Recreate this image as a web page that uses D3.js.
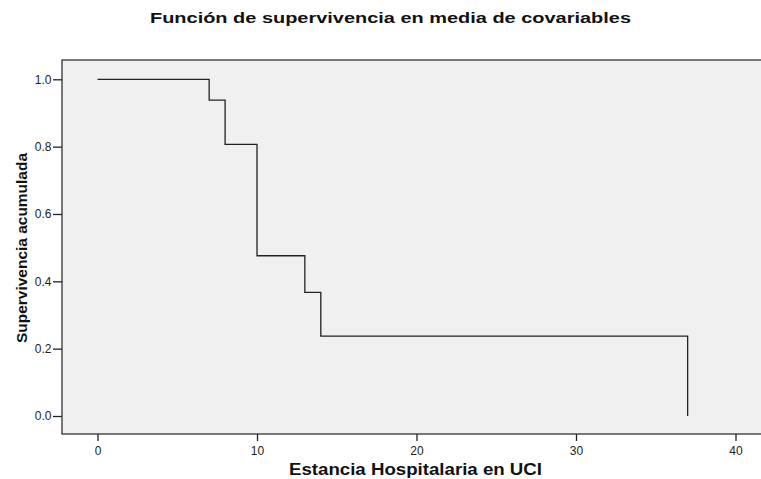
<!DOCTYPE html>
<html><head><meta charset="utf-8">
<script src="https://cdn.jsdelivr.net/npm/d3@7"></script>
<style>body{margin:0;background:#fff}svg{display:block}text{font-family:Arial,"Liberation Sans",sans-serif}</style>
</head><body>
<script>
const times = [0, 7, 8, 10, 13, 14, 37];
const survival = [1.0, 0.938, 0.807, 0.476, 0.367, 0.237, 0.0];
const xTicks = [0, 10, 20, 30, 40];
const yTicks = [0.0, 0.2, 0.4, 0.6, 0.8, 1.0];
const title = "Función de supervivencia en media de covariables";
const xLabel = "Estancia Hospitalaria en UCI";
const yLabel = "Supervivencia acumulada";

const W = 761, H = 479;
const svg = d3.select("body").append("svg").attr("width", W).attr("height", H);
const plot = {left: 62, top: 60, right: 765, bottom: 434};

const x = d3.scaleLinear().domain([0, 40]).range([97.5, 735.5]);
const y = d3.scaleLinear().domain([0, 1]).range([416, 79.3]);

svg.append("rect").attr("x", plot.left).attr("y", plot.top)
  .attr("width", plot.right - plot.left).attr("height", plot.bottom - plot.top)
  .attr("fill", "#f0f0f0").attr("stroke", "#333").attr("stroke-width", 1.3);

// step path
const pts = [];
for (let i = 0; i < times.length; i++) {
  if (i > 0) pts.push([times[i], survival[i - 1]]);
  pts.push([times[i], survival[i]]);
}
const line = d3.line().x(d => x(d[0])).y(d => y(d[1]));
svg.append("path").attr("d", line(pts)).attr("fill", "none")
  .attr("stroke", "#222").attr("stroke-width", 1.3);

const xAxis = svg.append("g").attr("transform", `translate(0,${plot.bottom})`)
  .call(d3.axisBottom(x).tickValues(xTicks).tickFormat(d3.format("d")).tickSize(7).tickSizeOuter(0));
xAxis.select(".domain").remove();
xAxis.selectAll("line").attr("stroke", "#222").attr("stroke-width", 1.3);
xAxis.selectAll("text").attr("font-size", 12).attr("fill", "#222").attr("dy", "0.9em");

const yAxis = svg.append("g").attr("transform", `translate(${plot.left},0)`)
  .call(d3.axisLeft(y).tickValues(yTicks).tickFormat(d3.format(".1f")).tickSize(9).tickSizeOuter(0));
yAxis.select(".domain").remove();
yAxis.selectAll("line").attr("stroke", "#222").attr("stroke-width", 1.3);
yAxis.selectAll("text").attr("font-size", 12).attr("fill", "#222").attr("x", -10.5);

svg.append("text").attr("x", 150).attr("y", 23)
  .attr("font-size", 15.5).attr("font-weight", "bold").attr("fill", "#111")
  .attr("textLength", 481).attr("lengthAdjust", "spacingAndGlyphs").text(title);
svg.append("text").attr("x", 289).attr("y", 475)
  .attr("font-size", 17).attr("font-weight", "bold").attr("fill", "#111")
  .attr("textLength", 253).attr("lengthAdjust", "spacingAndGlyphs").text(xLabel);
svg.append("text").attr("transform", `translate(26.5,343) rotate(-90)`)
  .attr("font-size", 15.5).attr("font-weight", "bold").attr("fill", "#111")
  .attr("textLength", 190).attr("lengthAdjust", "spacingAndGlyphs").text(yLabel);
</script>
</body></html>
